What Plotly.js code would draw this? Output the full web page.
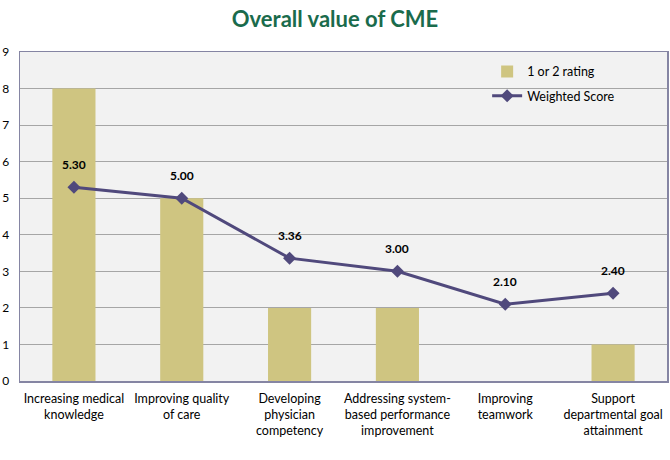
<!DOCTYPE html>
<html>
<head>
<meta charset="utf-8">
<script src="https://cdn.plot.ly/plotly-3.0.1.min.js"></script>
<style>
  html, body { margin: 0; padding: 0; background: #fff; }
  #chart { width: 670px; height: 460px; }
</style>
</head>
<body>
<div id="chart"></div>
<script>
// categories and values
var categories = ['Increasing medical knowledge', 'Improving quality of care',
    'Developing physician competency', 'Addressing system-based performance improvement',
    'Improving teamwork', 'Support departmental goal attainment'];
var tickLabels = ['Increasing medical<br>knowledge', 'Improving quality<br>of care',
    'Developing<br>physician<br>competency', 'Addressing system-<br>based performance<br>improvement',
    'Improving<br>teamwork', 'Support<br>departmental goal<br>attainment'];
var lowRating = [8, 5, 2, 2, 0, 1];
var weighted = [5.30, 5.00, 3.36, 3.00, 2.10, 2.40];
var yTicks = [0, 1, 2, 3, 4, 5, 6, 7, 8, 9];

var fontFam = 'Lato, "Open Sans", sans-serif';

var bars = {
    type: 'bar',
    name: '1 or 2 rating',
    legendgroup: 'a',
    x: categories,
    y: lowRating,
    width: 0.4,
    marker: {color: '#cfc581'},
    hoverinfo: 'y'
};

var line = {
    type: 'scatter',
    mode: 'lines+markers',
    name: 'Weighted Score',
    legendgroup: 'b',
    x: categories,
    y: weighted,
    line: {color: '#50497c', width: 3},
    marker: {symbol: 'diamond', size: 10, color: '#50497c'}
};

var labels = weighted.map(function (v, i) {
    return {
        x: categories[i], y: v, text: v.toFixed(2),
        showarrow: false, yshift: 23,
        font: {family: fontFam, size: 12, color: '#000', weight: 'bold'}
    };
});

var layout = {
    width: 670,
    height: 460,
    margin: {l: 20, r: 3, t: 52, b: 79},
    paper_bgcolor: '#ffffff',
    plot_bgcolor: '#f2f2f2',
    font: {family: fontFam, size: 12, color: '#000'},
    title: {
        text: 'Overall value of CME',
        font: {family: fontFam, size: 22, color: '#1a6b4c', weight: 'bold'},
        x: 0.5, xanchor: 'center', y: 0.975, yanchor: 'top'
    },
    showlegend: true,
    legend: {
        x: 0.722, y: 0.985, xanchor: 'left', yanchor: 'top',
        bgcolor: 'rgba(0,0,0,0)',
        font: {family: fontFam, size: 12.5, color: '#000'},
        traceorder: 'grouped',
        tracegroupgap: 5
    },
    bargap: 0.6,
    xaxis: {
        type: 'category',
        tickvals: categories,
        ticktext: tickLabels,
        showgrid: false,
        showline: true, mirror: true, linecolor: '#8585a3', linewidth: 1.5,
        ticks: 'outside', ticklen: 5, tickcolor: 'rgba(0,0,0,0)',
        tickfont: {family: fontFam, size: 12.5},
        fixedrange: true
    },
    yaxis: {
        range: [0, 9],
        tickvals: yTicks,
        showgrid: true, gridcolor: '#a6a6a6', gridwidth: 1,
        showline: true, mirror: true, linecolor: '#8585a3', linewidth: 1.5,
        zeroline: false,
        ticks: 'outside', ticklen: 7, tickcolor: 'rgba(0,0,0,0)',
        fixedrange: true
    },
    annotations: labels
};

Plotly.newPlot('chart', [bars, line], layout, {displayModeBar: false, staticPlot: true});
</script>
</body>
</html>
